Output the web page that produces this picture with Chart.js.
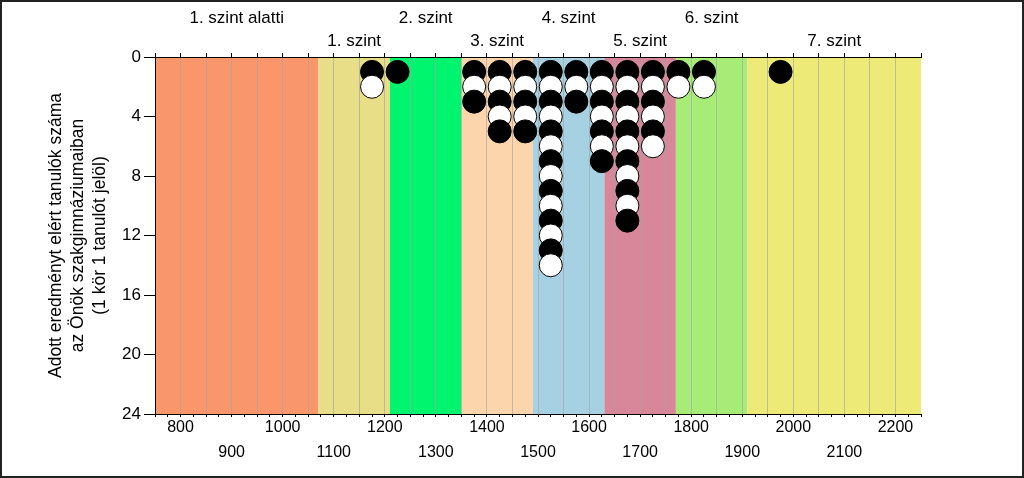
<!DOCTYPE html>
<html>
<head>
<meta charset="utf-8">
<script src="https://cdn.jsdelivr.net/npm/chart.js@4"></script>
<style>
  body { margin: 0; background: #fff; }
  #wrap { width: 1024px; height: 478px; position: relative; }
</style>
</head>
<body>
<div id="wrap"><canvas id="chart"></canvas></div>
<script>
// pontszám-sávok (szintek)
const bandEdges = [750, 1070, 1210, 1350, 1490, 1630, 1770, 1910, 2250];
const bandLabels = ["1. szint alatti", "1. szint", "2. szint", "3. szint", "4. szint", "5. szint", "6. szint", "7. szint"];
const bandColors = ["#F9966B", "#E8DE88", "#00F56E", "#FDD5AC", "#A5D1E3", "#D8879A", "#A8EC78", "#EDEA77"];

// tanulók száma 50 pontos sávonként
const binCenters = [1175, 1225, 1375, 1425, 1475, 1525, 1575, 1625, 1675, 1725, 1775, 1825, 1975];
const studentCounts = [2, 1, 3, 5, 5, 14, 3, 7, 11, 6, 2, 2, 1];

const yTicks = [0, 4, 8, 12, 16, 20, 24];
const FONT = "'Liberation Sans', Arial, sans-serif";

// egy kör = egy tanuló
const points = [];
binCenters.forEach((x, i) => {
  for (let k = 1; k <= studentCounts[i]; k++) points.push({x: x, y: k});
});

const bandCenters = bandLabels.map((_, i) => (bandEdges[i] + bandEdges[i + 1]) / 2);
const topTickVals = [];
for (let v = 750; v <= 2250; v += 50) topTickVals.push(v);
bandCenters.forEach(v => { if (!topTickVals.includes(v)) topTickVals.push(v); });
topTickVals.sort((a, b) => a - b);
const bottomTickVals = [];
for (let v = 750; v <= 2250; v += 25) bottomTickVals.push(v);

const bands = {
  id: "bands",
  beforeDraw(chart) {
    const {ctx, chartArea} = chart;
    const sx = chart.scales.x;
    ctx.save();
    bandColors.forEach((c, i) => {
      const x0 = sx.getPixelForValue(bandEdges[i]);
      const x1 = sx.getPixelForValue(bandEdges[i + 1]);
      ctx.fillStyle = c;
      ctx.fillRect(x0, chartArea.top, x1 - x0, chartArea.bottom - chartArea.top);
    });
    ctx.restore();
  },
  afterDraw(chart) {
    const ctx = chart.ctx;
    ctx.save();
    ctx.strokeStyle = "#222";
    ctx.lineWidth = 2;
    ctx.strokeRect(1, 1, chart.width - 2, chart.height - 2);
    ctx.restore();
  }
};

new Chart(document.getElementById("chart"), {
  type: "scatter",
  data: {
    datasets: [{
      data: points,
      pointRadius: 11.5,
      pointHoverRadius: 11.5,
      pointBorderWidth: 1,
      pointBorderColor: "#000",
      pointBackgroundColor: ctx => (ctx.raw && ctx.raw.y % 2 === 1) ? "#000" : "#fff"
    }]
  },
  options: {
    responsive: true,
    maintainAspectRatio: false,
    animation: false,
    events: [],
    layout: { padding: { left: 0, top: 0, right: 103, bottom: 0 } },
    plugins: { legend: { display: false }, tooltip: { enabled: false } },
    scales: {
      x: {
        type: "linear",
        position: "bottom",
        min: 750, max: 2250,
        afterBuildTicks: s => { s.ticks = bottomTickVals.map(v => ({value: v})); },
        afterFit: s => { s.height = 64; },
        border: { color: "#000", width: 1 },
        grid: {
          color: c => (c.tick && c.tick.value % 50 === 0 && c.tick.value > 750 && c.tick.value < 2250) ? "rgba(165,165,165,0.65)" : "rgba(0,0,0,0)",
          tickColor: "#000",
          tickLength: 3
        },
        ticks: {
          autoSkip: false, maxRotation: 0, padding: -2,
          color: "#000",
          font: { family: FONT, size: 16, lineHeight: 1.5625 },
          callback: v => {
            if (v % 100 !== 0) return "";
            return (v / 100) % 2 === 0 ? [String(v), ""] : ["", String(v)];
          }
        }
      },
      xTop: {
        type: "linear",
        position: "top",
        min: 750, max: 2250,
        afterBuildTicks: s => { s.ticks = topTickVals.map(v => ({value: v})); },
        afterFit: s => { s.height = 57; },
        border: { color: "#000", width: 1 },
        grid: {
          drawOnChartArea: false,
          tickColor: c => (c.tick && c.tick.value % 50 === 0) ? "#000" : "rgba(0,0,0,0)",
          tickLength: 4
        },
        ticks: {
          autoSkip: false, maxRotation: 0, padding: 0,
          color: "#000",
          font: { family: FONT, size: 17, lineHeight: 1.35 },
          callback: v => {
            const i = bandCenters.indexOf(v);
            if (i < 0) return "";
            return i % 2 === 0 ? [bandLabels[i], ""] : ["", bandLabels[i]];
          }
        }
      },
      y: {
        type: "linear",
        min: 0, max: 24,
        reverse: true,
        afterBuildTicks: s => { s.ticks = yTicks.map(v => ({value: v})); },
        afterFit: s => { s.width = 155; },
        border: { color: "#000", width: 1 },
        grid: { drawOnChartArea: false, tickColor: "#000", tickLength: 11 },
        ticks: {
          padding: 3,
          color: "#000",
          font: { family: FONT, size: 17 }
        },
        title: {
          display: true,
          text: ["Adott eredményt elért tanulók száma", "az Önök szakgimnáziumaiban", "(1 kör 1 tanulót jelöl)"],
          color: "#000",
          font: { family: FONT, size: 17.5, lineHeight: 1.25 },
          padding: { top: 45, bottom: 0 }
        }
      }
    }
  },
  plugins: [bands]
});
</script>
</body>
</html>
